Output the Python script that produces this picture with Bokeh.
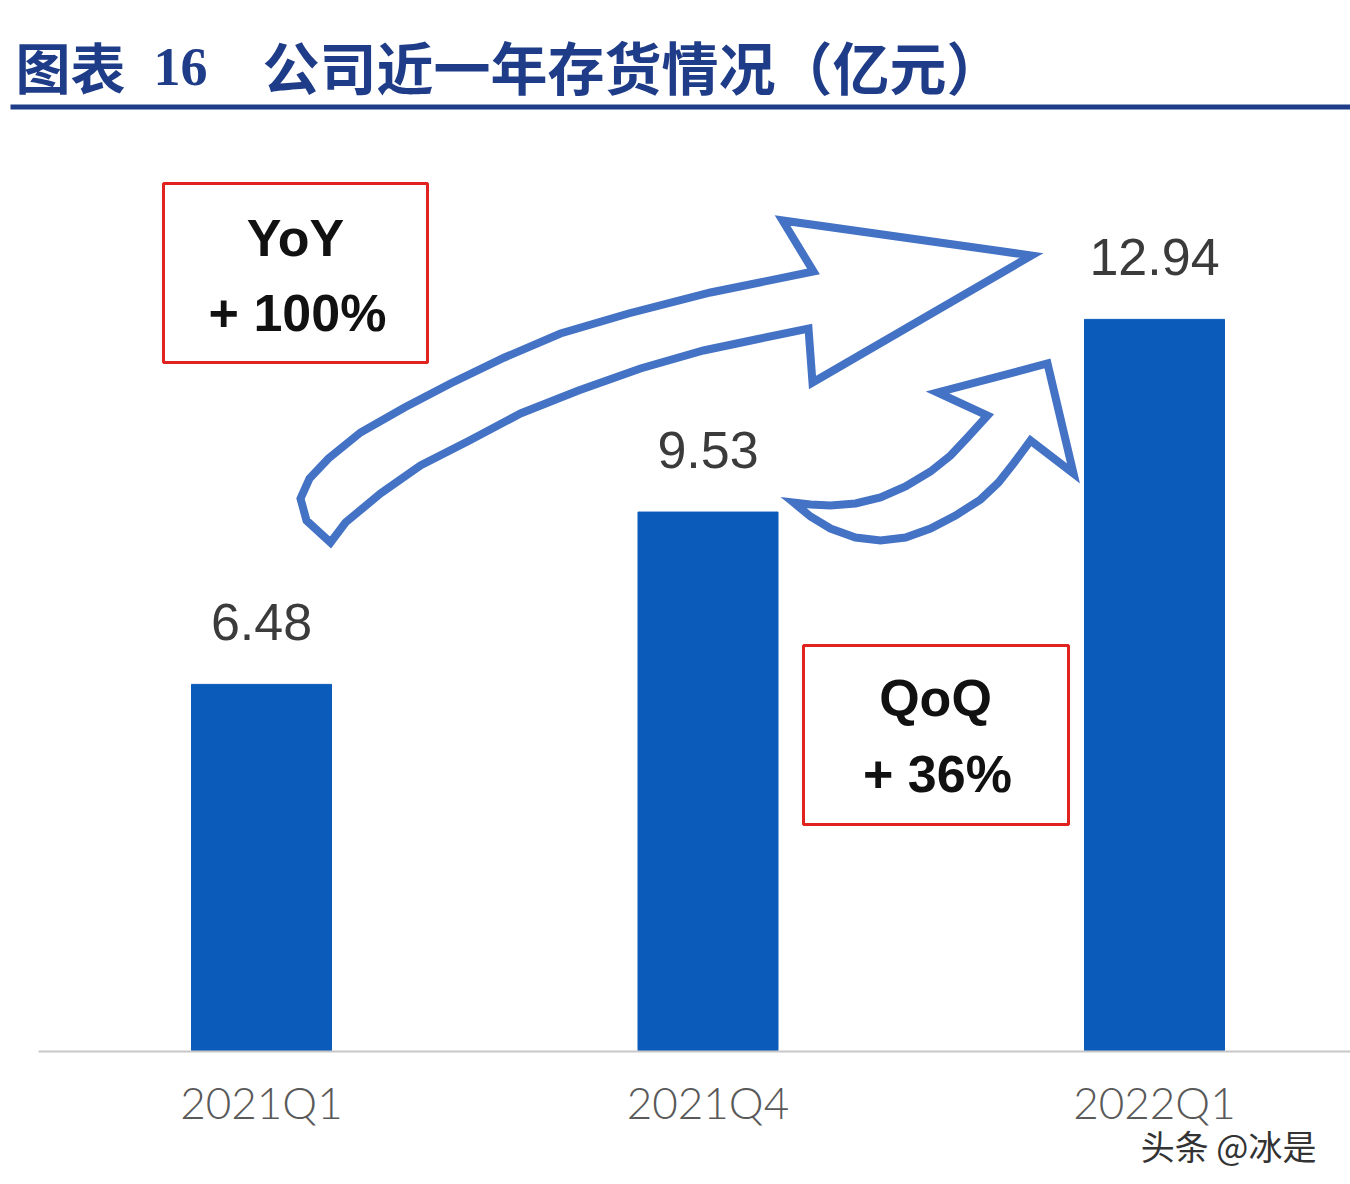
from bokeh.plotting import figure
from bokeh.models import Range1d, FixedTicker, Title
from bokeh.core.properties import value
from bokeh.embed import file_html
from bokeh.resources import INLINE

# ---------------- data ----------------
categories = ["2021Q1", "2021Q4", "2022Q1"]
inventory = [6.48, 9.53, 12.94]
value_labels = ["6.48", "9.53", "12.94"]
yoy_text = ["YoY", "+ 100%"]
qoq_text = ["QoQ", "+ 36%"]
title_parts = ["图表", "16", "公司近一年存货情况（亿元）"]
watermark = "头条 @冰是"

# ---------------- layout constants (pixels) ----------------
W, H = 1350, 1184
FRAME_H = 1051            # bottom of plotting frame (axis line)
X0_PX, DX_PX = 261, 446.5  # centre of first category, spacing
Y0_PX, DY_PX = 1050, 56.5  # zero line, pixels per unit
BAR_W_PX = 140

idx = list(range(len(categories)))

p = figure(width=W, height=H,
           x_range=Range1d(-X0_PX / DX_PX, (W - X0_PX) / DX_PX),
           y_range=Range1d(-(FRAME_H - Y0_PX) / DY_PX, Y0_PX / DY_PX),
           output_backend="svg", toolbar_location=None,
           y_axis_location=None,
           min_border=0, min_border_bottom=H - FRAME_H)
p.extra_x_ranges = {"px": Range1d(0, W)}
p.extra_y_ranges = {"py": Range1d(FRAME_H, 0)}
p.outline_line_color = None
p.xgrid.visible = False
p.ygrid.visible = False
p.background_fill_color = "white"
p.border_fill_color = "white"

ax = p.xaxis[0]
ax.ticker = FixedTicker(ticks=idx)
ax.major_label_overrides = {i: c for i, c in enumerate(categories)}
ax.bounds = ((38 - X0_PX) / DX_PX, (W - X0_PX) / DX_PX)
ax.axis_line_color = "#c8c8c8"
ax.axis_line_width = 2
ax.major_tick_line_color = None
ax.minor_tick_line_color = None
ax.major_tick_out = 0
ax.major_label_standoff = 24
ax.major_label_text_font_size = "44px"
ax.major_label_text_color = "#595959"
ax.major_label_text_font = "Lato Light, Liberation Sans"

# watermark line below the axis
p.add_layout(Title(text=watermark, align="right", offset=34, standoff=-24,
                   text_font_size="34px", text_color="#333333",
                   text_font="Noto Sans CJK SC", text_font_style="normal"), "below")

# ---------------- bars ----------------
p.vbar(x=idx, top=inventory, width=BAR_W_PX / DX_PX, color="#0b5cba")

p.text(x=idx, y=[v + 62 / DY_PX for v in inventory], text=value_labels,
       text_align="center", text_baseline="middle",
       text_font_size="52px", text_color="#3b3b3b",
       text_font=value("Liberation Sans"))

# ---------------- title ----------------
TITLE_C = "#1f3c88"
p.text(x=[15], y=[64], text=[title_parts[0]], x_range_name="px", y_range_name="py",
       text_align="left", text_baseline="middle", text_font_size="55px",
       text_font_style="bold", text_color=TITLE_C, text_font=value("Noto Sans CJK SC"))
p.text(x=[153], y=[66], text=[title_parts[1]], x_range_name="px", y_range_name="py",
       text_align="left", text_baseline="middle", text_font_size="54px",
       text_font_style="bold", text_color=TITLE_C, text_font=value("Liberation Serif"))
p.text(x=[262], y=[64], text=[title_parts[2]], x_range_name="px", y_range_name="py",
       text_align="left", text_baseline="middle", text_font_size="57px",
       text_font_style="bold", text_color=TITLE_C, text_font=value("Noto Sans CJK SC"))
p.quad(left=[10], right=[W], top=[104], bottom=[109], x_range_name="px", y_range_name="py",
       color=TITLE_C, line_color=None)

# ---------------- curved arrows (outline shapes, pixel space) ----------------
big_arrow = [
    (330, 542), (345, 522), (380, 493), (420, 465), (469, 440), (520, 413),
    (578, 390), (640, 368), (703, 350), (760, 338), (808, 328),
    (812, 382), (1031, 255), (782, 220), (813, 271),
    (710, 292), (628, 313), (560, 333), (504, 357), (450, 383), (404, 407),
    (360, 432), (328, 458), (309, 478), (300, 498), (306, 520),
]
small_arrow = [
    (793, 502), (810, 516), (830, 528), (855, 537), (880, 540), (905, 537),
    (930, 528), (955, 515), (980, 499), (998, 482), (1013, 463), (1030, 440),
    (1073, 473), (1047, 363), (937, 392), (987, 415),
    (967, 437), (950, 455), (930, 471), (905, 486), (880, 497), (855, 503),
    (830, 505), (810, 504),
]
p.patches(xs=[[a for a, b in big_arrow], [a for a, b in small_arrow]],
          ys=[[b for a, b in big_arrow], [b for a, b in small_arrow]],
          x_range_name="px", y_range_name="py",
          fill_color="white", line_color="#4472c4", line_width=8, line_join="miter")

# ---------------- red boxes ----------------
p.quad(left=[163, 803], right=[427, 1068], top=[183, 645], bottom=[362, 824],
       x_range_name="px", y_range_name="py",
       fill_color=None, line_color="#e0231f", line_width=3)

p.text(x=[295, 297], y=[237, 312], text=yoy_text, x_range_name="px", y_range_name="py",
       text_align="center", text_baseline="middle", text_font_size="52px",
       text_font_style="bold", text_color="#111111", text_font=value("Liberation Sans"))
p.text(x=[935, 937], y=[697, 773], text=qoq_text, x_range_name="px", y_range_name="py",
       text_align="center", text_baseline="middle", text_font_size="52px",
       text_font_style="bold", text_color="#111111", text_font=value("Liberation Sans"))

open("out.html", "w").write(file_html(p, INLINE))
